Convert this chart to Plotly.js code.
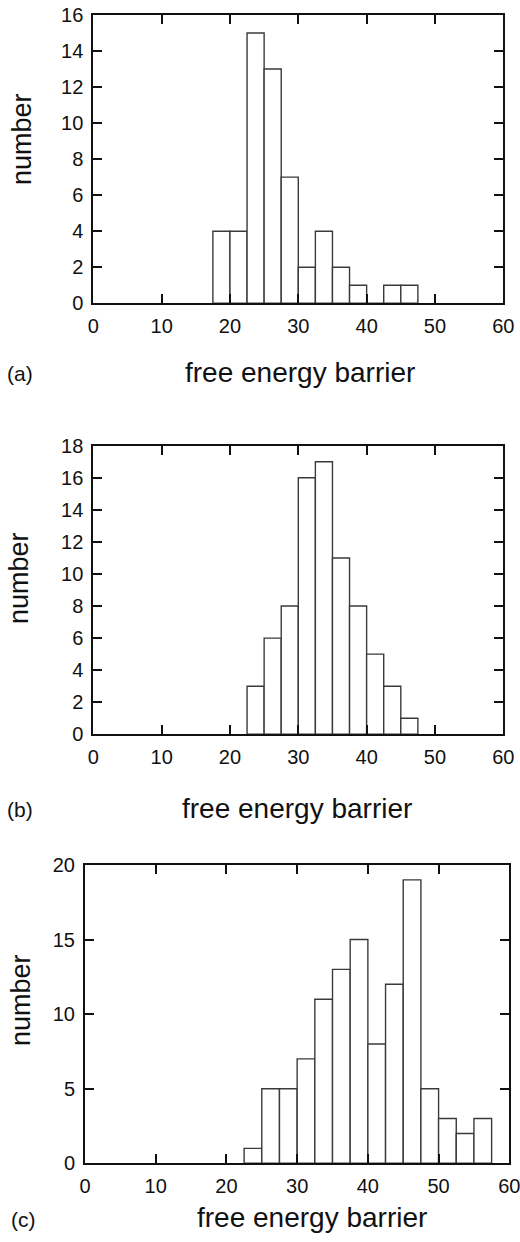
<!DOCTYPE html>
<html>
<head>
<meta charset="utf-8">
<script src="https://cdn.plot.ly/plotly-3.0.1.min.js"></script>
<style>
html,body{margin:0;padding:0;background:#fff;}
#chart{width:520px;height:1242px;}
</style>
</head>
<body>
<div id="chart"></div>
<script>
// Bin centres (bin width 2.5) and counts
const binWidth = 2.5;
const centersA = [18.75, 21.25, 23.75, 26.25, 28.75, 31.25, 33.75, 36.25, 38.75, 41.25, 43.75, 46.25];
const countsA  = [4, 4, 15, 13, 7, 2, 4, 2, 1, 0, 1, 1];

const centersB = [23.75, 26.25, 28.75, 31.25, 33.75, 36.25, 38.75, 41.25, 43.75, 46.25];
const countsB  = [3, 6, 8, 16, 17, 11, 8, 5, 3, 1];

const centersC = [23.75, 26.25, 28.75, 31.25, 33.75, 36.25, 38.75, 41.25, 43.75, 46.25, 48.75, 51.25, 53.75, 56.25];
const countsC  = [1, 5, 5, 7, 11, 13, 15, 8, 12, 19, 5, 3, 2, 3];

const xTicks = [0, 10, 20, 30, 40, 50, 60];
const yTicksA = [0, 2, 4, 6, 8, 10, 12, 14, 16];
const yTicksB = [0, 2, 4, 6, 8, 10, 12, 14, 16, 18];
const yTicksC = [0, 5, 10, 15, 20];
const panelLabels = ['(a)', '(b)', '(c)'];
const xTitle = 'free energy barrier';
const yTitle = 'number';

const W = 520, H = 1242;
const FONT = 'Liberation Sans, Arial, Helvetica, sans-serif';
const INK = '#111';

function barTrace(x, y, xa, ya) {
  return {
    type: 'bar', x: x, y: y, width: binWidth, xaxis: xa, yaxis: ya,
    marker: {color: '#ffffff', line: {color: '#3a3a3a', width: 1.4}},
    hoverinfo: 'x+y', showlegend: false
  };
}

function xAxis(l, r, anchor) {
  return {
    domain: [l / W, r / W], anchor: anchor, range: [0, 60],
    tickmode: 'array', tickvals: xTicks, ticktext: xTicks.map(String),
    ticks: 'inside', ticklen: 9, tickwidth: 2, tickcolor: INK,
    showline: true, linewidth: 2, linecolor: INK, mirror: 'ticks',
    showgrid: false, zeroline: false,
    tickfont: {family: FONT, size: 20, color: INK},
    ticklabelstandoff: 4, ticklabeloverflow: 'allow'
  };
}
function yAxis(t, b, anchor, ticks, maxv) {
  return {
    domain: [1 - b / H, 1 - t / H], anchor: anchor, range: [0, maxv],
    tickmode: 'array', tickvals: ticks, ticktext: ticks.map(String),
    ticks: 'inside', ticklen: 9, tickwidth: 2, tickcolor: INK,
    showline: true, linewidth: 2, linecolor: INK, mirror: 'ticks',
    showgrid: false, zeroline: false,
    tickfont: {family: FONT, size: 20, color: INK},
    ticklabelstandoff: 4, ticklabeloverflow: 'allow'
  };
}

function textAnn(text, px, py, size, angle) {
  return {text: text, xref: 'paper', yref: 'paper', x: px / W, y: 1 - py / H,
          xanchor: 'center', yanchor: 'middle', showarrow: false, textangle: angle || 0,
          font: {family: FONT, size: size, color: INK}};
}

const data = [
  barTrace(centersA, countsA, 'x', 'y'),
  barTrace(centersB, countsB, 'x2', 'y2'),
  barTrace(centersC, countsC, 'x3', 'y3')
];

const layout = {
  width: W, height: H,
  margin: {l: 0, r: 0, t: 0, b: 0},
  paper_bgcolor: '#fff', plot_bgcolor: '#fff',
  bargap: 0,
  font: {family: FONT, color: INK},
  xaxis: xAxis(93.3, 503.3, 'y'),
  yaxis: yAxis(15, 303.3, 'x', yTicksA, 16),
  xaxis2: xAxis(93.3, 503.3, 'y2'),
  yaxis2: yAxis(445.7, 734.3, 'x2', yTicksB, 18),
  xaxis3: xAxis(85, 509.3, 'y3'),
  yaxis3: yAxis(865, 1163.3, 'x3', yTicksC, 20),
  annotations: [
    // x-axis titles
    textAnn(xTitle, 300, 372, 28),
    textAnn(xTitle, 297, 808, 28),
    textAnn(xTitle, 312, 1217, 28),
    // y-axis titles
    textAnn(yTitle, 22, 139, 27, -90),
    textAnn(yTitle, 19, 578, 27, -90),
    textAnn(yTitle, 21, 1000, 27, -90),
    // panel labels
    textAnn(panelLabels[0], 20, 373, 21),
    textAnn(panelLabels[1], 20, 809, 21),
    textAnn(panelLabels[2], 23.5, 1219, 21)
  ]
};

Plotly.newPlot('chart', data, layout, {staticPlot: true, displayModeBar: false});
</script>
</body>
</html>
